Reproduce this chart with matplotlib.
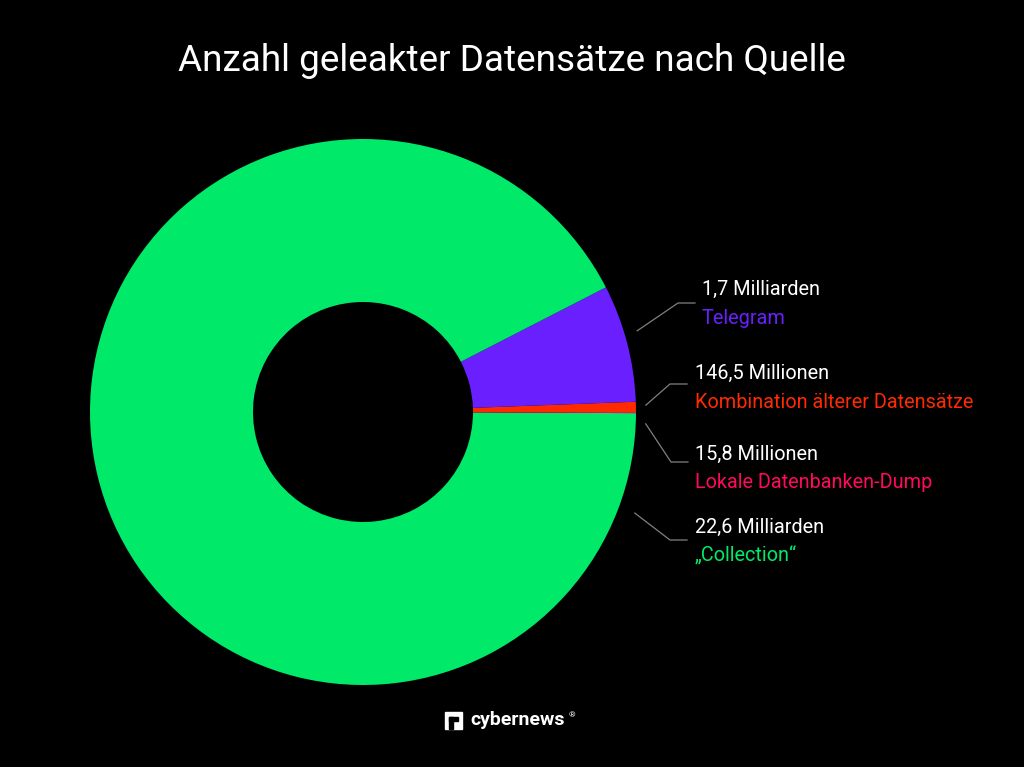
import matplotlib.pyplot as plt
import numpy as np
from matplotlib.patches import Rectangle

plt.rcParams['font.family'] = ['Roboto', 'DejaVu Sans']

# Data (records in millions), order counterclockwise from 3 o'clock
sources = ['Kombination älterer Datensätze', 'Telegram', '„Collection“', 'Lokale Datenbanken-Dump']
values = [146.5, 1700, 22600, 15.8]
value_labels = ['146,5 Millionen', '1,7 Milliarden', '22,6 Milliarden', '15,8 Millionen']
colors = ['#ff2a00', '#6a1fff', '#00e968', '#ff0a5a']

# label layout: anchor angle on the ring, elbow, text position (pixel coords, y down)
anchor_angles = [1.4, 16.5, -20.4, -2.4]
anchor_radius = [283, 286, 290, 283]
elbows = [(670, 384), (678, 303), (670, 540), (671, 462)]
text_pos = [(695, 373), (702, 289), (695, 527), (695, 454)]

W, H = 1024, 767
fig = plt.figure(figsize=(W / 100, H / 100), dpi=100, facecolor='black')
ax = fig.add_axes([0, 0, 1, 1])
ax.set_facecolor('black')

cx, cy = 363, H - 412
R, r_in = 273, 110
ax.pie(values, colors=colors, startangle=0, counterclock=True,
       center=(cx, cy), radius=R, frame=True,
       wedgeprops=dict(width=R - r_in, linewidth=0))
ax.set_xlim(0, W)
ax.set_ylim(0, H)
ax.set_aspect('equal')
ax.axis('off')

for i in range(len(sources)):
    a = np.deg2rad(anchor_angles[i])
    x0 = cx + anchor_radius[i] * np.cos(a)
    y0 = cy + anchor_radius[i] * np.sin(a)
    ex, ey = elbows[i]
    ey = H - ey
    ax.plot([x0, ex, ex + 17], [y0, ey, ey], color='#808080', lw=0.9)
    tx, ty = text_pos[i]
    ax.text(tx, H - ty, value_labels[i], color='white', fontsize=14.3,
            va='center', ha='left')
    ax.text(tx, H - ty - 29, sources[i], color=colors[i], fontsize=14.3,
            va='center', ha='left')

ax.text(512, H - 61, 'Anzahl geleakter Datensätze nach Quelle', color='white',
        fontsize=26.6, ha='center', va='center')

# cybernews logo
ax.add_patch(Rectangle((445, H - 729), 17, 17, color='white'))
ax.add_patch(Rectangle((449, H - 729), 4, 12, color='black'))
ax.add_patch(Rectangle((449, H - 721), 9, 4, color='black'))
ax.text(470, H - 720, 'cybernews', color='white', fontsize=14, fontweight='bold',
        ha='left', va='center')
ax.text(569, H - 715, '®', color='white', fontsize=6, ha='left', va='center')

fig.savefig('out.png', dpi=100, facecolor='black')
